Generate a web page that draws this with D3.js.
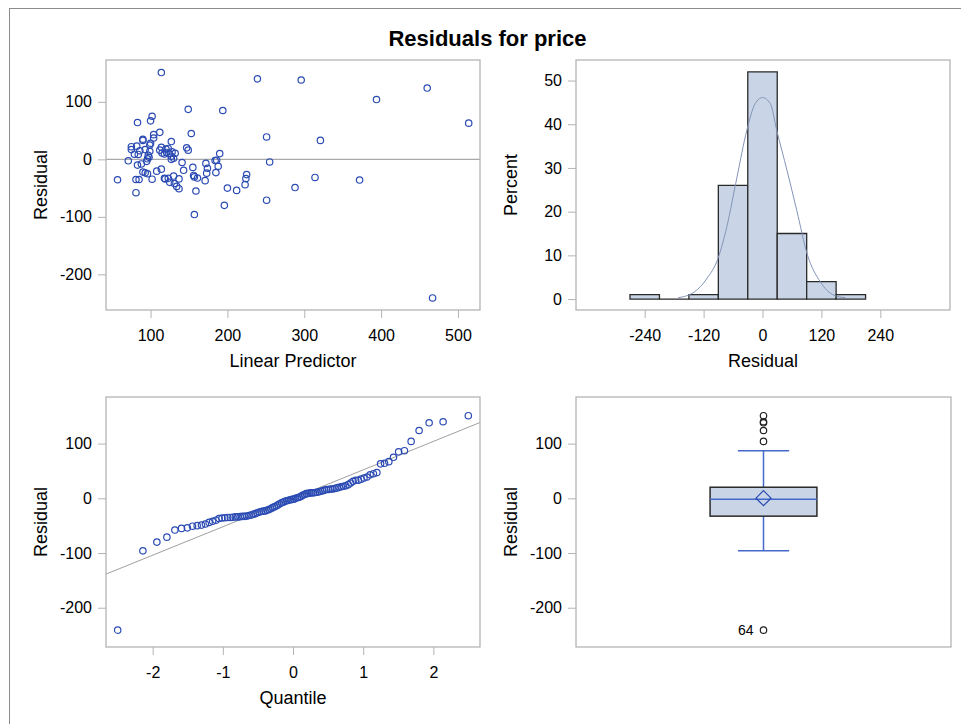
<!DOCTYPE html>
<html>
<head>
<meta charset="utf-8">
<script src="https://cdn.jsdelivr.net/npm/d3@7"></script>
<style>
  body { margin: 0; background: #fff; }
  text { font-family: "Liberation Sans", Arial, sans-serif; fill: #000; }
  .tick line { stroke: #b4b4b4; }
  .tick text { font-size: 16px; }
</style>
</head>
<body>
<div class="chart"></div>
<script>
// fit diagnostics for price
var predictor = [
  114, 239, 296, 460, 394, 149, 194, 102, 100, 83, 514, 112, 153, 104, 251, 104, 90, 321, 90, 127,
  96, 130, 98, 127, 97, 84, 79, 118, 190, 124, 132, 115, 121, 128, 99, 86, 149, 112, 75, 93,
  120, 123, 147, 114, 75, 82, 99, 100,
  130, 156, 225, 96, 173, 93, 185, 90, 108, 143, 114, 174, 155, 188, 83, 88, 172, 141, 255, 95,
  71, 184, 186, 127,
  196, 251, 81, 159, 212, 137, 200, 288, 134, 223, 131, 125, 171, 372, 57, 81, 85, 102, 119, 137,
  224, 123, 118, 161, 314, 157,
  467, 157
];
var residual = [
  151, 140, 138, 124, 104, 87, 85, 75, 67, 64, 63, 47, 45, 43, 39, 37, 35, 33, 33, 31,
  1, 2, 3.5, 5.5, 7, 8.5, 9, 9.5, 10, 10, 10.5, 11, 12, 13, 14, 15, 16, 16, 17, 17,
  18, 19, 20, 21, 22, 23, 25, 28,
  -29, -28, -26.5, -25, -24, -23.5, -23, -22, -20.5, -19, -17, -15.5, -14, -12, -10, -8, -7, -5.5, -4.5, -3.5,
  -2.5, -2, -1.5, 0,
  -80, -71, -58, -55, -54, -51, -50, -49, -47, -44, -42, -40, -37, -36, -35.5, -35, -35, -34.5, -34, -34,
  -33.5, -33, -33, -32.5, -31.5, -30.5,
  -241, -96
];

// histogram bins and the fitted normal curve (percent)
var binEdges = [-270, -210, -150, -90, -30, 30, 90, 150, 210];
var histTicks = [-240, -120, 0, 120, 240];
var curveX = [-172, -138, -114, -90, -73, -52, -32, -15, 0, 16, 29, 50, 70, 91, 118, 145, 169];
var curvePct = [0.3, 1.7, 4.6, 9.5, 16.4, 27.9, 38.6, 44.7, 46.1, 44.7, 38.6, 29.4, 20.2, 10.3, 3.9, 0.9, 0.3];

// q-q reference line
var qqIntercept = 0;
var qqSlope = 52;

var residTicks = [-200, -100, 0, 100];
var predTicks = [100, 200, 300, 400, 500];
var pctTicks = [0, 10, 20, 30, 40, 50];
var quantTicks = [-2, -1, 0, 1, 2];
var lowOutlierLabel = "64";

var W = 961, H = 724;
var markColor = "#2b4bb3";
var frameColor = "#b4b4b4";
var barFill = "#c9d5e6";
var plain = d => String(d); // keep ascii hyphen for negatives

var svg = d3.select(".chart").append("svg")
  .attr("width", W)
  .attr("height", H);

svg.append("rect")
  .attr("x", 9.5).attr("y", 8.5)
  .attr("width", 1000).attr("height", 1000)
  .attr("fill", "#fff")
  .attr("stroke", "#8c8c8c");

svg.append("text")
  .attr("x", 487.5).attr("y", 46)
  .attr("text-anchor", "middle")
  .style("font-size", "22px")
  .style("font-weight", "bold")
  .text("Residuals for price");

// panel boxes, yTitleX is the baseline of the rotated axis title
var panels = {
  tl: {left: 106, top: 60, width: 374, height: 250, yTitleX: 46.5},
  tr: {left: 576, top: 60, width: 374, height: 250, yTitleX: 516.5},
  bl: {left: 106, top: 397, width: 374, height: 250, yTitleX: 46.5},
  br: {left: 576, top: 397, width: 375, height: 250, yTitleX: 516.5}
};

function makePanel(p, xTitle, yTitle) {
  var g = svg.append("g")
    .attr("transform", `translate(${p.left}, ${p.top})`);
  g.append("rect")
    .attr("x", 0).attr("y", 0)
    .attr("width", p.width).attr("height", p.height)
    .attr("fill", "#fff");
  if (xTitle) {
    g.append("text")
      .attr("x", p.width / 2).attr("y", p.height + 57)
      .attr("text-anchor", "middle")
      .style("font-size", "18px")
      .text(xTitle);
  }
  g.append("text")
    .attr("transform", `translate(${p.yTitleX - p.left}, ${p.height / 2}) rotate(-90)`)
    .attr("text-anchor", "middle")
    .style("font-size", "18px")
    .text(yTitle);
  return g;
}

function finishPanel(g, p) {
  g.append("rect")
    .attr("x", 0).attr("y", 0)
    .attr("width", p.width).attr("height", p.height)
    .attr("fill", "none")
    .attr("stroke", frameColor)
    .attr("stroke-width", 1.3);
}

function drawAxes(g, p, x, y, xTicks, yTicks) {
  if (x) {
    var gx = g.append("g")
      .attr("transform", `translate(0, ${p.height})`)
      .call(d3.axisBottom(x).tickValues(xTicks).tickFormat(plain)
        .tickSize(8).tickPadding(12).tickSizeOuter(0));
    gx.select(".domain").remove();
  }
  var gy = g.append("g")
    .call(d3.axisLeft(y).tickValues(yTicks).tickFormat(plain)
      .tickSize(8).tickPadding(6).tickSizeOuter(0));
  gy.select(".domain").remove();
}

function circles(g, pts, color) {
  g.selectAll(null)
    .data(pts)
    .enter().append("circle")
      .attr("cx", d => d[0])
      .attr("cy", d => d[1])
      .attr("r", 3.2)
      .attr("fill", "none")
      .attr("stroke", color)
      .attr("stroke-width", 1.2);
}

/*
 * residual vs linear predictor
 */
(function() {
  var p = panels.tl;
  var g = makePanel(p, "Linear Predictor", "Residual");
  var x = d3.scaleLinear().domain([42, 528.7]).range([0, p.width]);
  var y = d3.scaleLinear().domain([-262, 172.8]).range([p.height, 0]);
  g.append("line")
    .attr("x1", 0).attr("x2", p.width)
    .attr("y1", y(0)).attr("y2", y(0))
    .attr("stroke", "#a8a8a8")
    .attr("stroke-width", 1.2);
  circles(g, predictor.map((v, i) => [x(v), y(residual[i])]), markColor);
  drawAxes(g, p, x, y, predTicks, residTicks);
  finishPanel(g, p);
})();

/*
 * histogram of residuals
 */
(function() {
  var p = panels.tr;
  var g = makePanel(p, "Residual", "Percent");
  var x = d3.scaleLinear().domain([-380, 382]).range([0, p.width]);
  var y = d3.scaleLinear().domain([-2.5, 54.7]).range([p.height, 0]);
  var bins = d3.bin()
    .domain([binEdges[0], binEdges[binEdges.length - 1]])
    .thresholds(binEdges.slice(1, -1))(residual);
  var pct = d => 100 * d.length / residual.length;
  // paths rather than rects so an empty bin still shows its base line
  g.selectAll(".bar")
    .data(bins)
    .enter().append("path")
      .attr("class", "bar")
      .attr("d", d => `M${x(d.x0)},${y(0)}V${y(pct(d))}H${x(d.x1)}V${y(0)}Z`)
      .attr("fill", barFill)
      .attr("stroke", "#2a2a2a")
      .attr("stroke-width", 1.3);
  var line = d3.line()
    .curve(d3.curveMonotoneX)
    .x(d => x(d))
    .y((d, i) => y(curvePct[i]));
  g.append("path")
    .attr("d", line(curveX))
    .attr("fill", "none")
    .attr("stroke", "#8494b8")
    .attr("stroke-width", 1);
  drawAxes(g, p, x, y, histTicks, pctTicks);
  finishPanel(g, p);
})();

/*
 * normal quantile plot
 */
function invNorm(pr) {
  var a = [-39.69683028665376, 220.9460984245205, -275.9285104469687, 138.3577518672690, -30.66479806614716, 2.506628277459239];
  var b = [-54.47609879822406, 161.5858368580409, -155.6989798598866, 66.80131188771972, -13.28068155288572];
  var c = [-0.007784894002430293, -0.3223964580411365, -2.400758277161838, -2.549732539343734, 4.374664141464968, 2.938163982698783];
  var d = [0.007784695709041462, 0.3224671290700398, 2.445134137142996, 3.754408661907416];
  var q, r;
  if (pr < 0.02425) {
    q = Math.sqrt(-2 * Math.log(pr));
    return (((((c[0]*q+c[1])*q+c[2])*q+c[3])*q+c[4])*q+c[5]) / ((((d[0]*q+d[1])*q+d[2])*q+d[3])*q+1);
  }
  if (pr > 1 - 0.02425) {
    q = Math.sqrt(-2 * Math.log(1 - pr));
    return -(((((c[0]*q+c[1])*q+c[2])*q+c[3])*q+c[4])*q+c[5]) / ((((d[0]*q+d[1])*q+d[2])*q+d[3])*q+1);
  }
  q = pr - 0.5;
  r = q * q;
  return (((((a[0]*r+a[1])*r+a[2])*r+a[3])*r+a[4])*r+a[5])*q / (((((b[0]*r+b[1])*r+b[2])*r+b[3])*r+b[4])*r+1);
}

var sorted = residual.slice().sort(d3.ascending);

(function() {
  var p = panels.bl;
  var g = makePanel(p, "Quantile", "Residual");
  var x = d3.scaleLinear().domain([-2.665, 2.665]).range([0, p.width]);
  var y = d3.scaleLinear().domain([-271.8, 185.2]).range([p.height, 0]);
  var n = sorted.length;
  g.append("line")
    .attr("x1", x(-2.665)).attr("x2", x(2.665))
    .attr("y1", y(qqIntercept + qqSlope * -2.665))
    .attr("y2", y(qqIntercept + qqSlope * 2.665))
    .attr("stroke", "#a0a0a0")
    .attr("stroke-width", 1);
  // blom plotting positions
  circles(g, sorted.map((v, i) => [x(invNorm((i + 1 - 0.375) / (n + 0.25))), y(v)]), markColor);
  drawAxes(g, p, x, y, quantTicks, residTicks);
  finishPanel(g, p);
})();

/*
 * box plot
 */
(function() {
  var p = panels.br;
  var g = makePanel(p, null, "Residual");
  var x = d3.scaleBand().domain(["price"]).range([0, p.width]).paddingOuter(1.255);
  var y = d3.scaleLinear().domain([-271.8, 185.2]).range([p.height, 0]);
  var q1 = d3.quantileSorted(sorted, 0.25);
  var med = d3.quantileSorted(sorted, 0.5);
  var q3 = d3.quantileSorted(sorted, 0.75);
  var iqr = q3 - q1;
  var lo = d3.min(sorted.filter(v => v >= q1 - 1.5 * iqr));
  var hi = d3.max(sorted.filter(v => v <= q3 + 1.5 * iqr));
  var outliers = sorted.filter(v => v < lo || v > hi);
  var mean = d3.mean(sorted);
  var bx = x("price"), bw = x.bandwidth(), cx = bx + bw / 2;
  var capW = bw * 0.48;
  var blue = "#4569c9";

  g.append("line")
    .attr("x1", cx).attr("x2", cx)
    .attr("y1", y(q3)).attr("y2", y(hi))
    .attr("stroke", blue).attr("stroke-width", 1.5);
  g.append("line")
    .attr("x1", cx).attr("x2", cx)
    .attr("y1", y(q1)).attr("y2", y(lo))
    .attr("stroke", blue).attr("stroke-width", 1.5);
  [lo, hi].forEach(function(v) {
    g.append("line")
      .attr("x1", cx - capW / 2).attr("x2", cx + capW / 2)
      .attr("y1", y(v)).attr("y2", y(v))
      .attr("stroke", blue).attr("stroke-width", 1.5);
  });
  g.append("rect")
    .attr("x", bx).attr("width", bw)
    .attr("y", y(q3)).attr("height", y(q1) - y(q3))
    .attr("fill", barFill)
    .attr("stroke", "#2a2a2a")
    .attr("stroke-width", 1.5);
  g.append("line")
    .attr("x1", bx).attr("x2", bx + bw)
    .attr("y1", y(med)).attr("y2", y(med))
    .attr("stroke", blue).attr("stroke-width", 1.5);
  var dm = 7.5;
  g.append("path")
    .attr("d", `M${cx},${y(mean) - dm}L${cx + dm},${y(mean)}L${cx},${y(mean) + dm}L${cx - dm},${y(mean)}Z`)
    .attr("fill", "none")
    .attr("stroke", "#2b4bb3")
    .attr("stroke-width", 1.3);
  circles(g, outliers.map(v => [cx, y(v)]), "#222");
  g.append("text")
    .attr("x", cx - 10).attr("y", y(sorted[0]))
    .attr("dy", "0.35em")
    .attr("text-anchor", "end")
    .style("font-size", "14px")
    .text(lowOutlierLabel);
  drawAxes(g, p, null, y, null, residTicks);
  finishPanel(g, p);
})();
</script>
</body>
</html>
